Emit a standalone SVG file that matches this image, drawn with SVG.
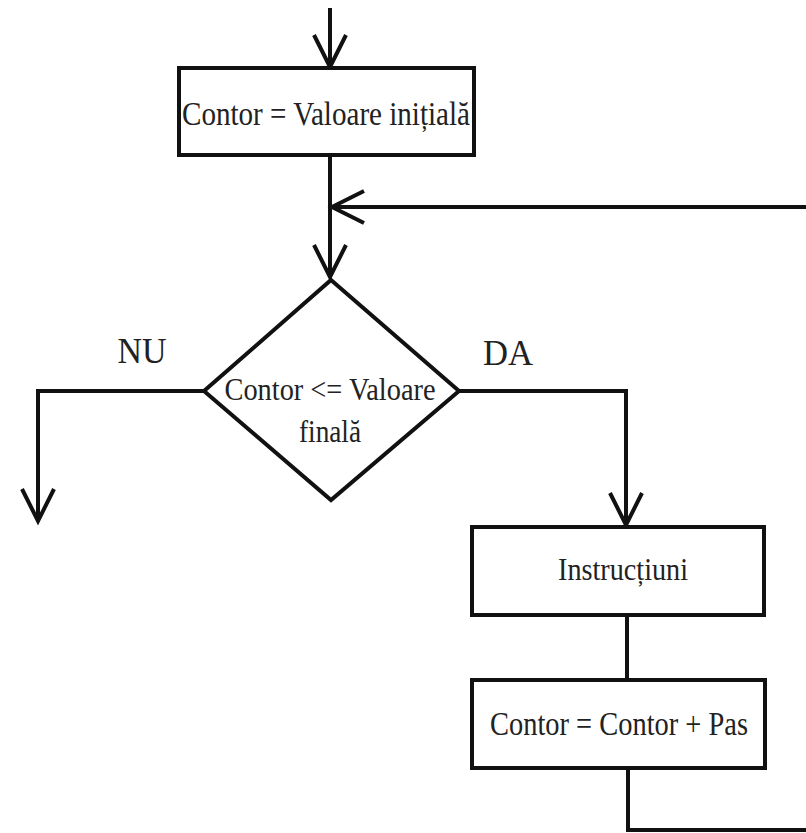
<svg xmlns="http://www.w3.org/2000/svg" width="806" height="833" viewBox="0 0 806 833">
  <defs>
    <style>
      .shape { fill: #ffffff; stroke: #111111; stroke-width: 4; }
      .conn { fill: none; stroke: #111111; stroke-width: 4; }
      .lbl { font-family: "Liberation Serif", "Times New Roman", serif; fill: #222222; text-anchor: middle; }
    </style>
    <marker id="arrow" viewBox="-36 -20 40 40" refX="0" refY="0" markerWidth="40" markerHeight="40" markerUnits="userSpaceOnUse" orient="auto" overflow="visible">
      <path d="M-32,-16 L0,0 L-32,16" fill="none" stroke="#111111" stroke-width="4" stroke-linejoin="miter"/>
    </marker>
  </defs>
  <rect width="806" height="833" fill="#ffffff"/>

  <g id="connectors">
    <line class="conn" x1="330" y1="8" x2="330" y2="67" marker-end="url(#arrow)"/>
    <line class="conn" x1="330" y1="155" x2="330" y2="277" marker-end="url(#arrow)"/>
    <line class="conn" x1="806" y1="207" x2="332" y2="207" marker-end="url(#arrow)"/>
    <path class="conn" d="M204,391 H38 V521" marker-end="url(#arrow)"/>
    <path class="conn" d="M459,391 H626 V525" marker-end="url(#arrow)"/>
    <line class="conn" x1="627" y1="615" x2="627" y2="680"/>
    <path class="conn" d="M628,768 V830 H806"/>
  </g>

  <g id="init">
    <rect class="shape" x="179" y="68" width="295" height="87"/>
    <text class="lbl" x="326" y="125" font-size="34" textLength="288" lengthAdjust="spacingAndGlyphs">Contor = Valoare inițială</text>
  </g>

  <g id="cond">
    <polygon class="shape" points="331,280 459,391 331,500 204,391"/>
    <text class="lbl" x="330" y="400" font-size="32" textLength="211" lengthAdjust="spacingAndGlyphs">Contor &lt;= Valoare</text>
    <text class="lbl" x="330" y="442" font-size="32" textLength="62" lengthAdjust="spacingAndGlyphs">finală</text>
  </g>

  <g id="label-nu">
    <text class="lbl" x="142" y="363" font-size="36" textLength="49" lengthAdjust="spacingAndGlyphs">NU</text>
  </g>
  <g id="label-da">
    <text class="lbl" x="508" y="365" font-size="36" textLength="50" lengthAdjust="spacingAndGlyphs">DA</text>
  </g>

  <g id="instr">
    <rect class="shape" x="472" y="527" width="292" height="88"/>
    <text class="lbl" x="623" y="580" font-size="32" textLength="130" lengthAdjust="spacingAndGlyphs">Instrucțiuni</text>
  </g>

  <g id="step">
    <rect class="shape" x="472" y="680" width="293" height="88"/>
    <text class="lbl" x="619" y="735" font-size="34" textLength="258" lengthAdjust="spacingAndGlyphs">Contor = Contor + Pas</text>
  </g>
</svg>
